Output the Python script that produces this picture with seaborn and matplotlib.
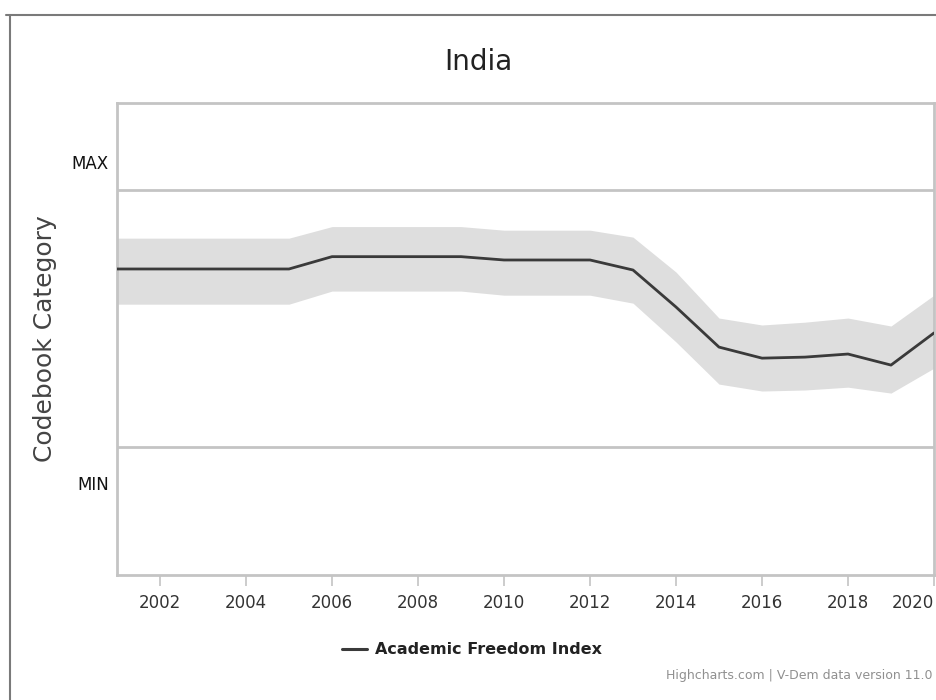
import matplotlib
matplotlib.use("Agg")
import matplotlib.pyplot as plt
import seaborn as sns
import pandas as pd
from matplotlib.lines import Line2D

# data: V-Dem Academic Freedom Index, India
years = [2001, 2002, 2003, 2004, 2005, 2006, 2007, 2008, 2009, 2010,
         2011, 2012, 2013, 2014, 2015, 2016, 2017, 2018, 2019, 2020]
afi = [0.693, 0.693, 0.693, 0.693, 0.693, 0.741, 0.741, 0.741, 0.741, 0.728,
       0.728, 0.728, 0.689, 0.545, 0.389, 0.346, 0.350, 0.362, 0.319, 0.444]
afi_high = [0.813, 0.813, 0.813, 0.813, 0.813, 0.858, 0.858, 0.858, 0.858, 0.844,
            0.844, 0.844, 0.817, 0.681, 0.502, 0.475, 0.486, 0.502, 0.471, 0.591]
afi_low = [0.556, 0.556, 0.556, 0.556, 0.556, 0.607, 0.607, 0.607, 0.607, 0.591,
           0.591, 0.591, 0.560, 0.409, 0.245, 0.218, 0.222, 0.233, 0.210, 0.307]
xtick_years = [2002, 2004, 2006, 2008, 2010, 2012, 2014, 2016, 2018, 2020]
ytick_pos = [-0.14, 1.11]
ytick_labels = ["MIN", "MAX"]

df = pd.DataFrame({"year": years, "afi": afi, "high": afi_high, "low": afi_low})

sns.set_style("white")
plt.rcParams["font.family"] = ["DejaVu Sans"]

fig = plt.figure(figsize=(9.37, 7.0), dpi=100)
ax = fig.add_axes([117 / 937, 125 / 700, 817 / 937, 472 / 700])

ax.fill_between(df["year"], df["low"], df["high"], color="#dedede", lw=0, zorder=1)
sns.lineplot(data=df, x="year", y="afi", ax=ax, color="#3a3a3a", linewidth=2.0,
             zorder=3, legend=False)

# MIN / MAX reference lines
for yv in [0, 1]:
    ax.axhline(yv, color="#c4c4c4", lw=2.0, zorder=2)

ax.set_xlim(2001, 2020)
ax.set_ylim(-0.498, 1.339)
ax.set_xticks(xtick_years)
ax.set_xticklabels([str(y) for y in xtick_years], fontsize=12, color="#333333")
# highcharts pulls the last label inside the chart
last = ax.get_xticklabels()[-1]
last.set_ha("right")
last.set_x(2020.1)
ax.set_yticks(ytick_pos)
ax.set_yticklabels(ytick_labels, fontsize=12, color="#111111")
ax.tick_params(axis="x", length=8, width=1.2, color="#c4c4c4", pad=6, bottom=True)
ax.tick_params(axis="y", length=0, pad=6)
ax.set_xlabel("")
ax.set_ylabel("Codebook Category", fontsize=18, color="#444444")
ax.yaxis.set_label_coords(-0.073, 0.5)

for sp in ax.spines.values():
    sp.set_color("#c4c4c4")
    sp.set_linewidth(2.0)

fig.text(0.511, 1 - 62 / 700, "India", ha="center", va="center", fontsize=20,
         color="#222222", family=["Liberation Sans Narrow", "DejaVu Sans"])

# legend
fig.add_artist(Line2D([342 / 937, 367 / 937], [1 - 649 / 700, 1 - 649 / 700],
                      color="#3a3a3a", lw=2.2))
fig.text(375 / 937, 1 - 649 / 700, "Academic Freedom Index", ha="left", va="center",
         fontsize=11.5, fontweight="bold", color="#222222")

fig.text(933 / 937, 1 - 675 / 700, "Highcharts.com | V-Dem data version 11.0",
         ha="right", va="center", fontsize=9, color="#909090")

# outer frame of the screenshot
fig.add_artist(Line2D([6 / 937, 1.0], [1 - 15 / 700, 1 - 15 / 700], color="#7a7a7a", lw=1.5))
fig.add_artist(Line2D([10 / 937, 10 / 937], [0, 1 - 15 / 700], color="#7a7a7a", lw=1.5))

fig.savefig("out.png", dpi=100)
